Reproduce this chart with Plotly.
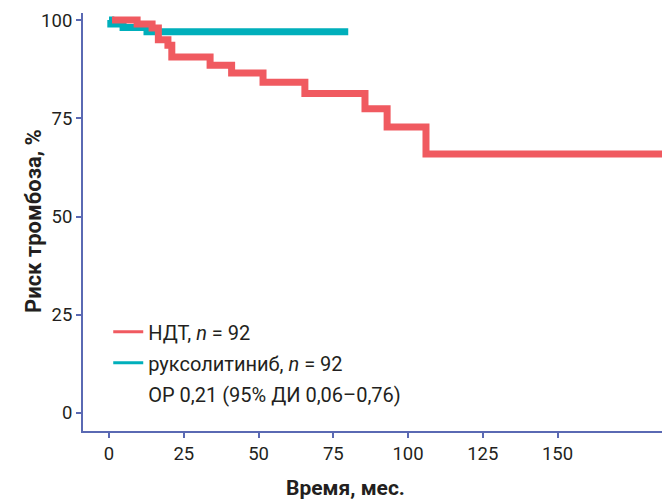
import plotly.graph_objects as go

# Data
ndt_time = [1, 9.4, 14.4, 16.5, 19.7, 21, 33.8, 41, 51.5, 65.5, 85.6, 93, 106, 186]
ndt_risk = [100, 99, 98, 95, 93.6, 90.6, 88.5, 86.5, 84.2, 81.3, 77.4, 72.8, 65.9, 65.9]

rux_time = [0, 0.6, 4.7, 12.7, 80]
rux_risk = [100, 99, 98.1, 97, 97]

x_ticks = [0, 25, 50, 75, 100, 125, 150]
y_ticks = [0, 25, 50, 75, 100]

legend_names = ["НДТ, <i>n</i> = 92", "руксолитиниб, <i>n</i> = 92", "ОР 0,21 (95% ДИ 0,06–0,76)"]

red = "#F05A60"
teal = "#00AFBB"
axis_col = "#5A69B3"
txt = "#231F20"
font_fam = "Roboto, 'Open Sans', sans-serif"
legend_colors = [red, teal, "rgba(0,0,0,0)"]

# page body has an 8px default margin: size the figure so it fills the window
W, H, OFF = 670, 502, 8
PL, PT, PR, PB = 83, 13, 670, 431  # plot area in window pixels
pw, ph = PR - PL, PB - PT

fig = go.Figure()
fig.add_trace(go.Scatter(x=rux_time, y=rux_risk, mode="lines", line_shape="hv",
                         line=dict(color=teal, width=7), showlegend=False))
fig.add_trace(go.Scatter(x=ndt_time, y=ndt_risk, mode="lines", line_shape="hv",
                         line=dict(color=red, width=7), showlegend=False))
for i, (nm, col) in enumerate(zip(legend_names, legend_colors)):
    fig.add_trace(go.Scatter(x=[None], y=[None], mode="lines",
                             line=dict(color=col, width=3), name=nm,
                             legendgroup=f"g{i}", showlegend=True))

fig.update_layout(
    width=W - OFF, height=H - OFF,
    margin=dict(l=PL - OFF, r=(W - OFF) - (PR - OFF), t=PT - OFF, b=(H - OFF) - (PB - OFF)),
    plot_bgcolor="white", paper_bgcolor="white",
    font=dict(family=font_fam, size=18, color=txt),
    showlegend=True,
    legend=dict(x=0.043, y=0.284, xanchor="left", yanchor="top",
                bgcolor="rgba(0,0,0,0)", font=dict(size=20, color=txt),
                traceorder="grouped", tracegroupgap=2, itemwidth=30),
    xaxis=dict(range=[-8.7, 187.6], tickvals=x_ticks, showgrid=False, zeroline=False,
               automargin=False,
               showline=True, linecolor=axis_col, linewidth=2,
               ticks="outside", tickcolor=axis_col, ticklen=5, tickwidth=2,
               tickfont=dict(size=18.5, color=txt)),
    yaxis=dict(range=[-4.6, 101.8], tickvals=y_ticks, showgrid=False, zeroline=False,
               automargin=False,
               showline=True, linecolor=axis_col, linewidth=2,
               ticks="outside", tickcolor=axis_col, ticklen=5, tickwidth=2,
               tickfont=dict(size=18.5, color=txt)),
    annotations=[
        dict(text="<b>Время, мес.</b>", xref="paper", yref="paper",
             x=(345 - PL) / pw, y=-(488 - PB) / ph, xanchor="center", yanchor="middle",
             showarrow=False, font=dict(size=21, color=txt)),
        dict(text="<b>Риск тромбоза, %</b>", xref="paper", yref="paper",
             x=-(PL - 33) / pw, y=(PB - 221) / ph, xanchor="center", yanchor="middle",
             textangle=-90, showarrow=False, font=dict(size=22, color=txt)),
    ],
)

fig.write_html("out.html")
